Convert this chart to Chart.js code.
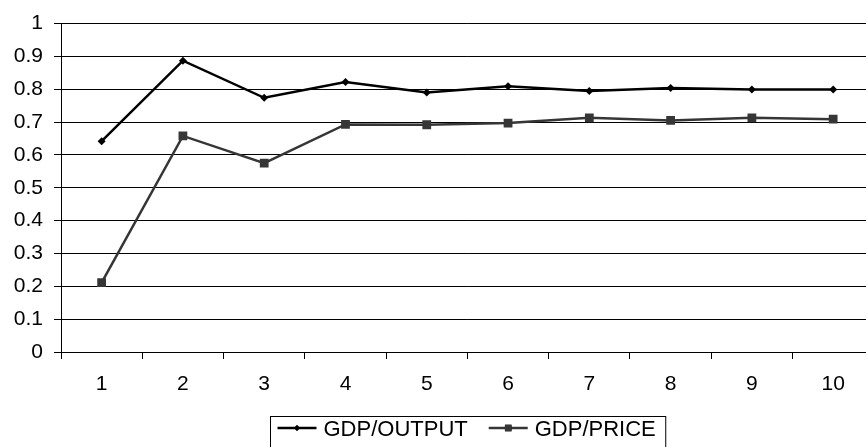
<!DOCTYPE html>
<html>
<head>
<meta charset="utf-8">
<script src="https://cdn.jsdelivr.net/npm/chart.js@4.4.1/dist/chart.umd.min.js"></script>
<style>
  html, body { margin: 0; padding: 0; background: #fff; overflow: hidden; }
  #wrap { position: relative; width: 880px; height: 447px; }
</style>
</head>
<body>
<div id="wrap"><canvas id="c"></canvas></div>
<script>
// Categories along the x axis
const periods = ['1', '2', '3', '4', '5', '6', '7', '8', '9', '10'];
// Ratio series
const gdpOutput = [0.642, 0.887, 0.774, 0.822, 0.790, 0.809, 0.795, 0.804, 0.799, 0.799];
const gdpPrice  = [0.211, 0.658, 0.575, 0.693, 0.692, 0.697, 0.713, 0.705, 0.713, 0.709];
// Value axis ticks
const yTicks = [0, 0.1, 0.2, 0.3, 0.4, 0.5, 0.6, 0.7, 0.8, 0.9, 1];

const FONT = "'Liberation Sans', Arial, sans-serif";

// Legend with a framed box, line + marker sample for each series
const boxedLegend = {
  id: 'boxedLegend',
  afterDraw(chart) {
    const ctx = chart.ctx;
    const area = chart.chartArea;
    const sets = chart.data.datasets;
    ctx.save();
    ctx.font = '22px ' + FONT;
    const padL = 7, padR = 10, lineLen = 39, gapText = 7, itemGap = 21;
    const widths = sets.map(d => ctx.measureText(d.label).width);
    let total = padL + padR;
    widths.forEach((w, i) => { total += lineLen + gapText + w + (i < widths.length - 1 ? itemGap : 0); });
    const cx = (area.left + area.right) / 2;
    const left = Math.round(cx - total / 2) + 0.5;
    const top = 416.5;
    ctx.strokeStyle = '#000';
    ctx.lineWidth = 1;
    ctx.strokeRect(left, top, total, 40);
    let x = left + padL;
    const ly = 428;
    sets.forEach((d, i) => {
      ctx.strokeStyle = d.borderColor;
      ctx.lineWidth = d.borderWidth;
      ctx.beginPath();
      ctx.moveTo(x, ly);
      ctx.lineTo(x + lineLen, ly);
      ctx.stroke();
      Chart.helpers.drawPoint(ctx, {
        pointStyle: d.pointStyle,
        radius: d.pointRadius * 0.75,
        borderWidth: 0,
        rotation: 0
      }, x + lineLen / 2, ly);
      ctx.fillStyle = d.pointBackgroundColor;
      ctx.fill();
      x += lineLen + gapText;
      ctx.fillStyle = '#000';
      ctx.textBaseline = 'alphabetic';
      ctx.textAlign = 'left';
      ctx.fillText(d.label, x, 436);
      x += widths[i] + itemGap;
    });
    ctx.restore();
  }
};

new Chart(document.getElementById('c'), {
  type: 'line',
  data: {
    labels: periods,
    datasets: [
      {
        label: 'GDP/OUTPUT',
        data: gdpOutput,
        borderColor: '#000000',
        backgroundColor: '#000000',
        pointBackgroundColor: '#000000',
        pointBorderColor: '#000000',
        borderWidth: 2.5,
        pointStyle: 'rectRot',
        pointRadius: 4,
        pointBorderWidth: 0,
        tension: 0
      },
      {
        label: 'GDP/PRICE',
        data: gdpPrice,
        borderColor: '#363636',
        backgroundColor: '#363636',
        pointBackgroundColor: '#363636',
        pointBorderColor: '#363636',
        borderWidth: 2.5,
        pointStyle: 'rect',
        pointRadius: 6.2,
        pointBorderWidth: 0,
        tension: 0
      }
    ]
  },
  options: {
    responsive: true,
    maintainAspectRatio: false,
    animation: false,
    layout: { padding: { top: 22, right: 3, bottom: 0, left: 0 } },
    plugins: {
      legend: { display: false },
      tooltip: { enabled: false }
    },
    scales: {
      x: {
        offset: true,
        grid: {
          offset: true,
          drawOnChartArea: false,
          drawTicks: true,
          tickLength: 7,
          color: '#000',
          lineWidth: 1
        },
        border: { display: true, color: '#000', width: 1 },
        ticks: {
          color: '#000',
          font: { family: FONT, size: 21 },
          padding: 13,
          maxRotation: 0,
          autoSkip: false
        },
        afterFit(scale) { scale.height = 95; }
      },
      y: {
        min: 0,
        max: 1,
        afterBuildTicks(scale) { scale.ticks = yTicks.map(v => ({ value: v })); },
        grid: {
          color: '#000',
          lineWidth: 1,
          drawTicks: true,
          tickLength: 7
        },
        border: { display: true, color: '#000', width: 1 },
        ticks: {
          color: '#000',
          font: { family: FONT, size: 21 },
          padding: 11,
          callback: v => String(Math.round(v * 10) / 10)
        },
        afterFit(scale) { scale.width = 61; }
      }
    }
  },
  plugins: [boxedLegend]
});
</script>
</body>
</html>
